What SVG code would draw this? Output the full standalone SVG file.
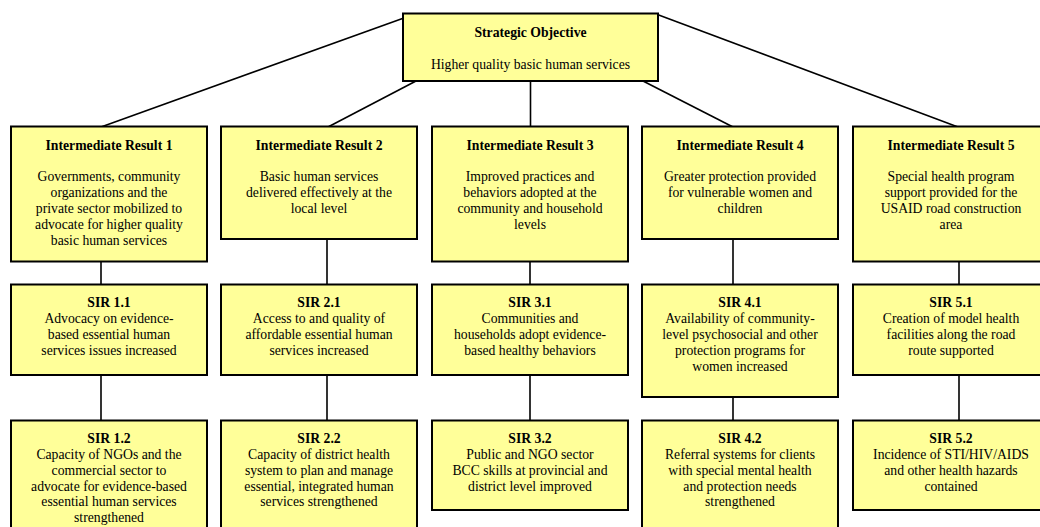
<svg xmlns="http://www.w3.org/2000/svg" width="1040" height="527" viewBox="0 0 1040 527">
<style>
.box{fill:#ffff99;stroke:#000;stroke-width:2}
.t{font-size:13.7px;text-anchor:middle;fill:#000}
.b{font-weight:bold}
.c{stroke:#000;stroke-width:1.6;fill:none}
</style>
<rect width="1040" height="527" fill="#fff"/>
<g id="connectors">
<line class="c" x1="415" y1="14" x2="101" y2="127"/>
<line class="c" x1="416" y1="81" x2="328" y2="127"/>
<line class="c" x1="530.5" y1="81" x2="530.5" y2="127"/>
<line class="c" x1="643" y1="81" x2="733" y2="127"/>
<line class="c" x1="656" y1="14" x2="958" y2="127"/>
<line class="c" x1="101" y1="262" x2="101" y2="284"/>
<line class="c" x1="327" y1="239" x2="327" y2="284"/>
<line class="c" x1="530" y1="262" x2="530" y2="284"/>
<line class="c" x1="733" y1="239" x2="733" y2="284"/>
<line class="c" x1="959" y1="262" x2="959" y2="284"/>
<line class="c" x1="101" y1="375" x2="101" y2="420"/>
<line class="c" x1="327" y1="375" x2="327" y2="420"/>
<line class="c" x1="530" y1="375" x2="530" y2="420"/>
<line class="c" x1="733" y1="397" x2="733" y2="420"/>
<line class="c" x1="959" y1="375" x2="959" y2="420"/>
</g>
<g font-family="Liberation Serif, Times New Roman, serif">
<g id="so">
<rect class="box" x="403" y="13.5" width="255" height="67.5"/>
<text class="t b" x="530.5" y="36.5">Strategic Objective</text>
<text class="t" x="530.5" y="68.5">Higher quality basic human services</text>
</g>
<g id="ir1">
<rect class="box" x="11" y="126.5" width="196" height="135"/>
<text class="t b" x="109" y="149.5">Intermediate Result 1</text>
<text class="t" x="109" y="181">Governments, community</text>
<text class="t" x="109" y="197">organizations and the</text>
<text class="t" x="109" y="213">private sector mobilized to</text>
<text class="t" x="109" y="229">advocate for higher quality</text>
<text class="t" x="109" y="245">basic human services</text>
</g>
<g id="ir2">
<rect class="box" x="221" y="126.5" width="196" height="112.5"/>
<text class="t b" x="319" y="149.5">Intermediate Result 2</text>
<text class="t" x="319" y="181">Basic human services</text>
<text class="t" x="319" y="197">delivered effectively at the</text>
<text class="t" x="319" y="213">local level</text>
</g>
<g id="ir3">
<rect class="box" x="432" y="126.5" width="196" height="135"/>
<text class="t b" x="530" y="149.5">Intermediate Result 3</text>
<text class="t" x="530" y="181">Improved practices and</text>
<text class="t" x="530" y="197">behaviors adopted at the</text>
<text class="t" x="530" y="213">community and household</text>
<text class="t" x="530" y="229">levels</text>
</g>
<g id="ir4">
<rect class="box" x="642" y="126.5" width="196" height="112.5"/>
<text class="t b" x="740" y="149.5">Intermediate Result 4</text>
<text class="t" x="740" y="181">Greater protection provided</text>
<text class="t" x="740" y="197">for vulnerable women and</text>
<text class="t" x="740" y="213">children</text>
</g>
<g id="ir5">
<rect class="box" x="853" y="126.5" width="196" height="135"/>
<text class="t b" x="951" y="149.5">Intermediate Result 5</text>
<text class="t" x="951" y="181">Special health program</text>
<text class="t" x="951" y="197">support provided for the</text>
<text class="t" x="951" y="213">USAID road construction</text>
<text class="t" x="951" y="229">area</text>
</g>
<g id="sir11">
<rect class="box" x="11" y="284.5" width="196" height="90.5"/>
<text class="t b" x="109" y="307">SIR 1.1</text>
<text class="t" x="109" y="323">Advocacy on evidence-</text>
<text class="t" x="109" y="339">based essential human</text>
<text class="t" x="109" y="355">services issues increased</text>
</g>
<g id="sir21">
<rect class="box" x="221" y="284.5" width="196" height="90.5"/>
<text class="t b" x="319" y="307">SIR 2.1</text>
<text class="t" x="319" y="323">Access to and quality of</text>
<text class="t" x="319" y="339">affordable essential human</text>
<text class="t" x="319" y="355">services increased</text>
</g>
<g id="sir31">
<rect class="box" x="432" y="284.5" width="196" height="90.5"/>
<text class="t b" x="530" y="307">SIR 3.1</text>
<text class="t" x="530" y="323">Communities and</text>
<text class="t" x="530" y="339">households adopt evidence-</text>
<text class="t" x="530" y="355">based healthy behaviors</text>
</g>
<g id="sir41">
<rect class="box" x="642" y="284.5" width="196" height="112.5"/>
<text class="t b" x="740" y="307">SIR 4.1</text>
<text class="t" x="740" y="323">Availability of community-</text>
<text class="t" x="740" y="339">level psychosocial and other</text>
<text class="t" x="740" y="355">protection programs for</text>
<text class="t" x="740" y="371">women increased</text>
</g>
<g id="sir51">
<rect class="box" x="853" y="284.5" width="196" height="90.5"/>
<text class="t b" x="951" y="307">SIR 5.1</text>
<text class="t" x="951" y="323">Creation of model health</text>
<text class="t" x="951" y="339">facilities along the road</text>
<text class="t" x="951" y="355">route supported</text>
</g>
<g id="sir12">
<rect class="box" x="11" y="420.5" width="196" height="120"/>
<text class="t b" x="109" y="443">SIR 1.2</text>
<text class="t" x="109" y="459">Capacity of NGOs and the</text>
<text class="t" x="109" y="475">commercial sector to</text>
<text class="t" x="109" y="490.5">advocate for evidence-based</text>
<text class="t" x="109" y="506">essential human services</text>
<text class="t" x="109" y="522">strengthened</text>
</g>
<g id="sir22">
<rect class="box" x="221" y="420.5" width="196" height="120"/>
<text class="t b" x="319" y="443">SIR 2.2</text>
<text class="t" x="319" y="459">Capacity of district health</text>
<text class="t" x="319" y="475">system to plan and manage</text>
<text class="t" x="319" y="490.5">essential, integrated human</text>
<text class="t" x="319" y="506">services strengthened</text>
</g>
<g id="sir32">
<rect class="box" x="432" y="420.5" width="196" height="89.5"/>
<text class="t b" x="530" y="443">SIR 3.2</text>
<text class="t" x="530" y="459">Public and NGO sector</text>
<text class="t" x="530" y="475">BCC skills at provincial and</text>
<text class="t" x="530" y="491">district level improved</text>
</g>
<g id="sir42">
<rect class="box" x="642" y="420.5" width="196" height="120"/>
<text class="t b" x="740" y="443">SIR 4.2</text>
<text class="t" x="740" y="459">Referral systems for clients</text>
<text class="t" x="740" y="475">with special mental health</text>
<text class="t" x="740" y="490.5">and protection needs</text>
<text class="t" x="740" y="506">strengthened</text>
</g>
<g id="sir52">
<rect class="box" x="853" y="420.5" width="196" height="89.5"/>
<text class="t b" x="951" y="443">SIR 5.2</text>
<text class="t" x="951" y="459">Incidence of STI/HIV/AIDS</text>
<text class="t" x="951" y="475">and other health hazards</text>
<text class="t" x="951" y="491">contained</text>
</g>
</g>
</svg>
